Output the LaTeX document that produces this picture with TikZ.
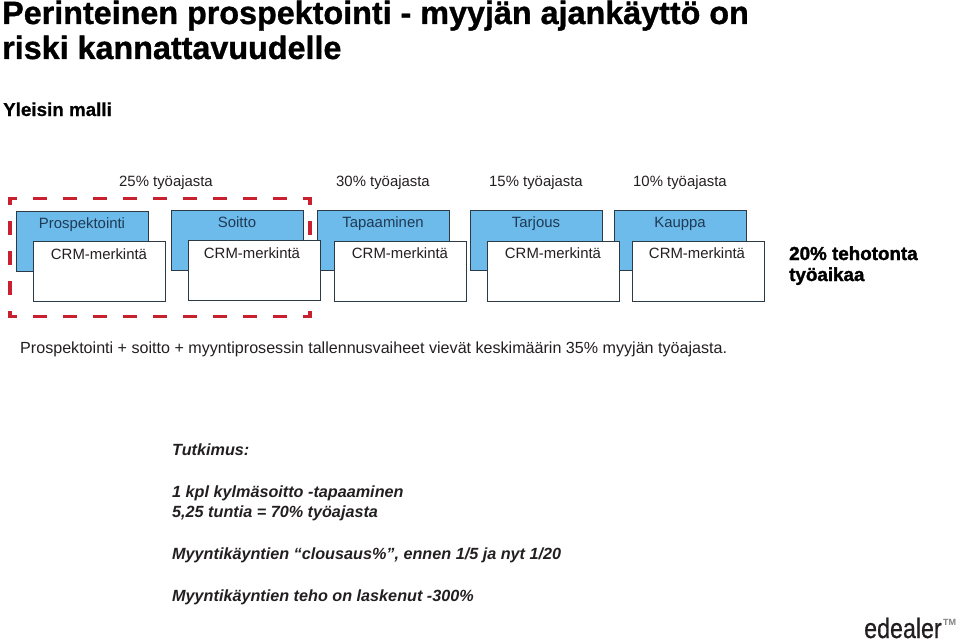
\documentclass[tikz,border=0pt]{standalone}
\usepackage{fontspec}
\setmainfont{Liberation Sans}
\definecolor{bluebox}{HTML}{6DBBEA}
\definecolor{edge}{HTML}{2C3A46}
\definecolor{redd}{HTML}{C9202F}
\definecolor{txt}{HTML}{231F20}
\definecolor{bluetxt}{HTML}{1F3A55}
\tikzset{
  stage/.style={draw=edge,line width=1.4pt,fill=bluebox,minimum width=132pt,minimum height=60pt,inner sep=0pt,anchor=north west},
  crm/.style={draw=edge,line width=1.4pt,fill=white,minimum width=132pt,minimum height=60pt,inner sep=0pt,anchor=north west},
  lab/.style={anchor=base,inner sep=0pt,text=txt,font=\fontsize{14.9}{15}\selectfont},
  blab/.style={lab,text=bluetxt},
  title/.style={anchor=base west,inner sep=0pt,text=black,font=\bfseries\fontsize{32.3}{33}\selectfont\addfontfeature{FakeBold=1}},
  study/.style={anchor=base west,inner sep=0pt,text=txt,font=\bfseries\itshape\fontsize{16.2}{17}\selectfont},
  heavy/.style={anchor=base west,inner sep=0pt,text=black,font=\bfseries\fontsize{18.8}{19}\selectfont\addfontfeature{FakeBold=1.7}},
  frameh/.style={redd,line width=3.4pt,dash pattern=on 14pt off 16pt,dash phase=5pt},
  framev/.style={redd,line width=3.6pt,dash pattern=on 14pt off 16pt,dash phase=6pt},
}
\begin{document}
\begin{tikzpicture}[x=1pt,y=-1pt]
\useasboundingbox (0,0) rectangle (959,642);
\node[title] (t1) at (2,24) {Perinteinen prospektointi - myyjän ajankäyttö on};
\node[title] (t2) at (2,59) {riski kannattavuudelle};
\node[anchor=base west,inner sep=0pt,font=\bfseries\fontsize{18.8}{19}\selectfont\addfontfeature{FakeBold=0.6}] (malli) at (3,116) {Yleisin malli};
\node[lab] (p1) at (166,186) {25\% työajasta};
\node[lab] (p2) at (383,186) {30\% työajasta};
\node[lab] (p3) at (536,186) {15\% työajasta};
\node[lab] (p4) at (680,186) {10\% työajasta};
\coordinate (fa) at (8,198.4);
\coordinate (fb) at (312,198.4);
\coordinate (fc) at (8,316.6);
\coordinate (fd) at (312,316.6);
\coordinate (fe) at (9.9,197);
\coordinate (ff) at (9.9,318);
\coordinate (fg) at (310.100,197);
\coordinate (fh) at (310.100,318);
\draw[frameh] (fa) -- (fb);
\draw[frameh] (fc) -- (fd);
\draw[framev] (fe) -- (ff);
\draw[framev] (fg) -- (fh);
\node[stage] (b1) at (16,211) {};
\node[stage] (b2) at (171,210) {};
\node[stage] (b3) at (317,210) {};
\node[stage] (b4) at (470,210) {};
\node[stage] (b5) at (614,210) {};
\node[blab] (l1) at (82,228) {Prospektointi};
\node[blab] (l2) at (237,227) {Soitto};
\node[blab] (l3) at (383,227) {Tapaaminen};
\node[blab] (l4) at (536,227) {Tarjous};
\node[blab] (l5) at (680,227) {Kauppa};
\node[crm] (c1) at (33,241) {};
\node[crm] (c2) at (188,240) {};
\node[crm] (c3) at (334,241) {};
\node[crm] (c4) at (487,241) {};
\node[crm] (c5) at (632,241) {};
\node[lab] (m1) at (99,259) {CRM-merkintä};
\node[lab] (m2) at (252,258.500) {CRM-merkintä};
\node[lab] (m3) at (400,258.500) {CRM-merkintä};
\node[lab] (m4) at (553,258.500) {CRM-merkintä};
\node[lab] (m5) at (697,258.500) {CRM-merkintä};
\node[heavy] (w1) at (789,260) {20\% tehotonta};
\node[heavy] (w2) at (789,281) {työaikaa};
\node[anchor=base west,inner sep=0pt,text=txt,font=\fontsize{16.1}{17}\selectfont] (sum) at (20,353) {Prospektointi + soitto + myyntiprosessin tallennusvaiheet vievät keskimäärin 35\% myyjän työajasta.};
\node[study] (s1) at (172,455) {Tutkimus:};
\node[study] (s2) at (172,497) {1 kpl kylmäsoitto -tapaaminen};
\node[study] (s3) at (172,517) {5,25 tuntia = 70\% työajasta};
\node[study] (s4) at (172,559) {Myyntikäyntien “clousaus\%”, ennen 1/5 ja nyt 1/20};
\node[study] (s5) at (172,601) {Myyntikäyntien teho on laskenut -300\%};
\node[anchor=base west,inner sep=0pt,text=txt,font=\fontsize{28}{28}\selectfont\addfontfeature{FakeStretch=0.83,FakeBold=0.6}] (logo) at (864,638) {edealer};
\node[anchor=base west,inner sep=0pt,text=gray,font=\fontsize{9}{9}\selectfont\bfseries] (tm) at (943,625) {TM};
\end{tikzpicture}
\end{document}
